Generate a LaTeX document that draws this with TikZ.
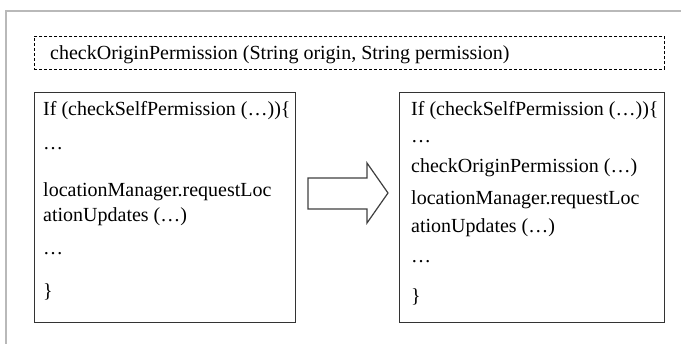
\documentclass[tikz,border=0pt]{standalone}
\usepackage{fontspec}
\setmainfont{Liberation Serif}
\usetikzlibrary{positioning}

\begin{document}
\begin{tikzpicture}[
  x=1pt, y=-1pt,
  code/.style={anchor=base west, inner sep=0pt, font=\fontsize{20}{24}\selectfont},
  codebox/.style={draw=black!80, line width=1.2pt, anchor=north west,
                  minimum height=230pt, inner sep=0pt},
  sigbox/.style={draw=black, line width=0.9pt, dash pattern=on 3pt off 2pt,
                 anchor=north west, minimum width=630pt, minimum height=33pt,
                 inner sep=0pt},
  bigarrow/.style={draw=black!75, fill=white, line width=1.2pt, line join=miter}
]
  \useasboundingbox (0,0) rectangle (681,344);
  \def\xL{43} \def\xR{411}

  %--- outer frame (cut at right and bottom) ---
  \draw[gray!55, line width=1.4pt] (6,400) -- (6,11) -- (700,11);

  %--- signature of the new method ---
  \node[sigbox] (sig) at (34,36) {};
  \node[code] (sigtxt) at (50,60)
    {checkOriginPermission (String origin, String permission)};

  %--- original code ---
  \node[codebox, minimum width=261pt] (before) at (34,92) {};
  \node[code] (b1) at (\xL,116) {If (checkSelfPermission (…))\{};
  \node[code] (b2) at (\xL,150) {…};
  \node[code] (b3) at (\xL,197) {locationManager.requestLoc};
  \node[code] (b4) at (\xL,222) {ationUpdates (…)};
  \node[code] (b5) at (\xL,255) {…};
  \node[code] (b6) at (\xL,298) {\}};

  %--- block arrow ---
  \draw[bigarrow] (308,178) -- (367,178) -- (367,163) -- (388,193)
    -- (367,223) -- (367,209) -- (308,209) -- cycle;

  %--- instrumented code ---
  \node[codebox, minimum width=265pt] (after) at (399,92) {};
  \node[code] (a1) at (\xR,116) {If (checkSelfPermission (…))\{};
  \node[code] (a2) at (\xR,143) {…};
  \node[code] (a3) at (\xR,173) {checkOriginPermission (…)};
  \node[code] (a4) at (\xR,205) {locationManager.requestLoc};
  \node[code] (a5) at (\xR,233) {ationUpdates (…)};
  \node[code] (a6) at (\xR,263) {…};
  \node[code] (a7) at (\xR,303) {\}};

\end{tikzpicture}
\end{document}
